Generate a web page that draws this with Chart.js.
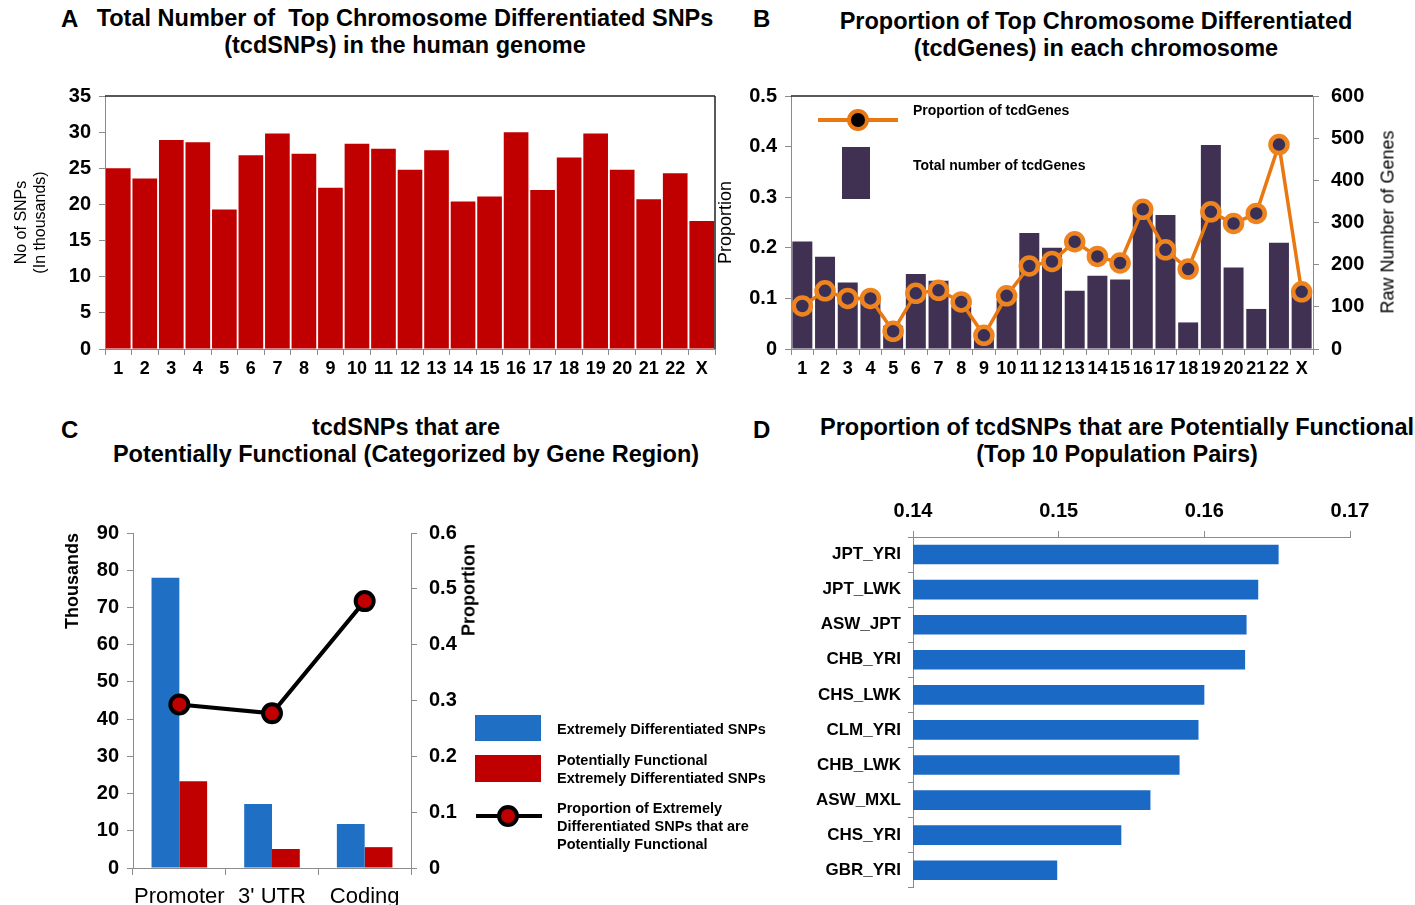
<!DOCTYPE html>
<html>
<head>
<meta charset="utf-8">
<script src="https://cdn.jsdelivr.net/npm/chart.js@4.4.1/dist/chart.umd.min.js"></script>
<style>
  body { margin: 0; background: #fff; }
  #page { position: relative; width: 1415px; height: 905px; overflow: hidden; background: #fff;
          font-family: 'Liberation Sans', Arial, sans-serif; color: #000; }
  .abs { position: absolute; white-space: nowrap; }
  .title { font-weight: bold; font-size: 23.5px; text-align: center; line-height: 27px; transform: translateX(-50%); }
  .letter { font-weight: bold; font-size: 24px; }
  .leg { font-weight: bold; font-size: 14.5px; line-height: 18px; }
  .rot { transform: translate(-50%, -50%) rotate(-90deg); }
  canvas { position: absolute; }
</style>
</head>
<body>
<div id="page">
  <!-- titles -->
  <div class="abs letter" style="left:61px; top:5px;">A</div>
  <div class="abs title" style="left:405px; top:5px;">Total Number of&nbsp; Top Chromosome Differentiated SNPs<br>(tcdSNPs) in the human genome</div>
  <div class="abs letter" style="left:753px; top:5px;">B</div>
  <div class="abs title" style="left:1096px; top:8px;">Proportion of Top Chromosome Differentiated<br>(tcdGenes) in each chromosome</div>
  <div class="abs letter" style="left:61px; top:416px;">C</div>
  <div class="abs title" style="left:406px; top:414px;">tcdSNPs that are<br>Potentially Functional (Categorized by Gene Region)</div>
  <div class="abs letter" style="left:753px; top:416px;">D</div>
  <div class="abs title" style="left:1117px; top:414px;">Proportion of tcdSNPs that are Potentially Functional<br>(Top 10 Population Pairs)</div>

  <canvas id="chartA" width="730" height="314" style="left:0px; top:76px;"></canvas>
  <canvas id="chartB" width="700" height="318" style="left:715px; top:72px;"></canvas>
  <canvas id="chartC" width="480" height="405" style="left:0px; top:500px;"></canvas>
  <canvas id="chartD" width="635" height="415" style="left:780px; top:490px;"></canvas>

  <!-- rotated right-hand axis titles -->
  <div class="abs rot" style="left:1388px; top:222px; font-size:18px;">Raw Number of Genes</div>
  <div class="abs rot" style="left:469px; top:590px; font-size:18px; font-weight:bold;">Proportion</div>

  <!-- legend B -->
  <div class="abs" style="left:818px; top:118px; width:80px; height:4px; background:#e8780f;"></div>
  <div class="abs" style="left:847px; top:109px; width:14px; height:14px; border:4px solid #e8780f; border-radius:50%; background:#000;"></div>
  <div class="abs leg" style="left:913px; top:101px; font-size:14px;">Proportion of tcdGenes</div>
  <div class="abs" style="left:842px; top:147px; width:28px; height:52px; background:#403152;"></div>
  <div class="abs leg" style="left:913px; top:156px; font-size:14px;">Total number of tcdGenes</div>

  <!-- legend C -->
  <div class="abs" style="left:475px; top:715px; width:66px; height:26px; background:#1f6fc5;"></div>
  <div class="abs leg" style="left:557px; top:720px;">Extremely Differentiated SNPs</div>
  <div class="abs" style="left:475px; top:755px; width:66px; height:27px; background:#c00000;"></div>
  <div class="abs leg" style="left:557px; top:751px;">Potentially Functional<br>Extremely Differentiated SNPs</div>
  <div class="abs" style="left:476px; top:814px; width:66px; height:4px; background:#000;"></div>
  <div class="abs" style="left:497px; top:805px; width:14px; height:14px; border:4px solid #000; border-radius:50%; background:#c00000;"></div>
  <div class="abs leg" style="left:557px; top:799px;">Proportion of Extremely<br>Differentiated SNPs that are<br>Potentially Functional</div>
</div>

<script>
// ---- data ----
const chromosomes = ['1','2','3','4','5','6','7','8','9','10','11','12','13','14','15','16','17','18','19','20','21','22','X'];
const snpThousands = [25.0, 23.6, 28.9, 28.6, 19.3, 26.8, 29.8, 27.0, 22.3, 28.4, 27.7, 24.8, 27.5, 20.4, 21.1, 30.0, 22.0, 26.5, 29.8, 24.8, 20.7, 24.3, 17.7];

const geneCounts = [255, 219, 158, 120, 55, 178, 162, 100, 40, 116, 275, 240, 138, 174, 165, 324, 318, 63, 484, 193, 95, 252, 132];
const geneProportion = [0.085, 0.115, 0.100, 0.100, 0.035, 0.110, 0.116, 0.093, 0.027, 0.105, 0.164, 0.173, 0.212, 0.183, 0.170, 0.276, 0.196, 0.158, 0.271, 0.248, 0.268, 0.404, 0.113];

const geneRegions = ['Promoter', "3' UTR", 'Coding'];
const extremeSnps = [78.0, 17.2, 11.8];
const functionalSnps = [23.3, 5.1, 5.6];
const functionalProportion = [0.293, 0.277, 0.478];

const popPairs = ['JPT_YRI', 'JPT_LWK', 'ASW_JPT', 'CHB_YRI', 'CHS_LWK', 'CLM_YRI', 'CHB_LWK', 'ASW_MXL', 'CHS_YRI', 'GBR_YRI'];
const functionalShare = [0.1651, 0.1637, 0.1629, 0.1628, 0.1600, 0.1596, 0.1583, 0.1563, 0.1543, 0.1499];

// ---- common look ----
const FONT = "'Liberation Sans', Arial, sans-serif";
Chart.defaults.font.family = FONT;
Chart.defaults.color = '#000';
Chart.defaults.animation = false;
Chart.defaults.plugins.legend.display = false;
Chart.defaults.plugins.tooltip.enabled = false;

const AXIS_GREY = '#8c8c8c';
const tickFont = { size: 20, weight: 'bold' };

// top / right frame lines of a plot box
const framePlugin = {
    id: 'frame',
    afterDraw(chart, args, opts) {
        if (!opts.sides) return;
        const { ctx, chartArea: a } = chart;
        ctx.save();
        ctx.strokeStyle = opts.color || '#333';
        ctx.lineWidth = opts.width || 1.5;
        ctx.beginPath();
        if (opts.sides.includes('top')) { ctx.moveTo(a.left, a.top); ctx.lineTo(a.right, a.top); }
        if (opts.sides.includes('right')) { ctx.moveTo(a.right, a.top); ctx.lineTo(a.right, a.bottom); }
        ctx.stroke();
        ctx.restore();
    }
};
Chart.register(framePlugin);

function axisGrid(len) {
    return { display: true, drawOnChartArea: false, tickLength: len, color: AXIS_GREY };
}

// ---- A ----
new Chart(document.getElementById('chartA'), {
    type: 'bar',
    data: {
        labels: chromosomes,
        datasets: [{ data: snpThousands, backgroundColor: '#c00000', barPercentage: 0.93, categoryPercentage: 1 }]
    },
    options: {
        responsive: false,
        layout: { padding: { top: 12, right: 15, left: 12, bottom: 0 } },
        plugins: { frame: { sides: ['top', 'right'], color: '#222' } },
        scales: {
            x: {
                grid: axisGrid(6), border: { color: AXIS_GREY },
                ticks: { font: { size: 18, weight: 'bold' }, padding: 3, maxRotation: 0, autoSkip: false },
                afterFit: s => { s.height = 41; }
            },
            y: {
                min: 0, max: 35,
                grid: axisGrid(6), border: { color: AXIS_GREY },
                ticks: { stepSize: 5, font: tickFont, padding: 8 },
                title: { display: true, text: ['No of SNPs', '(In thousands)'], font: { size: 16 }, padding: 0 },
                afterFit: s => { s.width = 93; }
            }
        }
    }
});

// ---- B ----
new Chart(document.getElementById('chartB'), {
    type: 'bar',
    data: {
        labels: chromosomes,
        datasets: [
            {
                type: 'line', data: geneProportion, yAxisID: 'y', order: 0,
                borderColor: '#e8780f', borderWidth: 3.5,
                pointRadius: 8.5, pointBorderWidth: 4.5,
                pointBackgroundColor: '#3a2f55', pointBorderColor: '#ee8420'
            },
            {
                type: 'bar', data: geneCounts, yAxisID: 'y1', order: 1,
                backgroundColor: '#403152', barPercentage: 0.88, categoryPercentage: 1
            }
        ]
    },
    options: {
        responsive: false,
        layout: { padding: { top: 9, right: 0, left: 0, bottom: 0 } },
        plugins: { frame: { sides: ['top'], color: '#222' } },
        scales: {
            x: {
                grid: axisGrid(6), border: { color: AXIS_GREY },
                ticks: { font: { size: 18, weight: 'bold' }, padding: 3, maxRotation: 0, autoSkip: false },
                afterFit: s => { s.height = 41; }
            },
            y: {
                position: 'left', min: 0, max: 0.5,
                grid: axisGrid(6), border: { color: AXIS_GREY },
                ticks: { stepSize: 0.1, font: tickFont, padding: 8, callback: v => v === 0 ? '0' : v.toFixed(1) },
                title: { display: true, text: 'Proportion', font: { size: 18 }, padding: 0 },
                afterFit: s => { s.width = 76; }
            },
            y1: {
                position: 'right', min: 0, max: 600,
                grid: axisGrid(6), border: { color: AXIS_GREY },
                ticks: { stepSize: 100, font: tickFont, padding: 12 },
                afterFit: s => { s.width = 102; }
            }
        }
    }
});

// ---- C ----
new Chart(document.getElementById('chartC'), {
    type: 'bar',
    data: {
        labels: geneRegions,
        datasets: [
            {
                type: 'line', data: functionalProportion, yAxisID: 'y1', order: 0,
                borderColor: '#000', borderWidth: 4,
                pointRadius: 9, pointBorderWidth: 4,
                pointBackgroundColor: '#c00000', pointBorderColor: '#000'
            },
            { type: 'bar', data: extremeSnps, yAxisID: 'y', order: 1, backgroundColor: '#1f6fc5', barPercentage: 1, categoryPercentage: 0.6 },
            { type: 'bar', data: functionalSnps, yAxisID: 'y', order: 2, backgroundColor: '#c00000', barPercentage: 1, categoryPercentage: 0.6 }
        ]
    },
    options: {
        responsive: false,
        layout: { padding: { top: 33, right: 0, left: 62, bottom: 0 } },
        scales: {
            x: {
                grid: axisGrid(7), border: { color: AXIS_GREY },
                ticks: { font: { size: 22 }, padding: 9, maxRotation: 0, autoSkip: false },
                afterFit: s => { s.height = 37; }
            },
            y: {
                position: 'left', min: 0, max: 90,
                grid: axisGrid(6), border: { color: AXIS_GREY },
                ticks: { stepSize: 10, font: tickFont, padding: 8 },
                title: { display: true, text: 'Thousands', font: { size: 18, weight: 'bold' }, align: 'end', padding: 0 },
                afterFit: s => { s.width = 71; }
            },
            y1: {
                position: 'right', min: 0, max: 0.6,
                grid: axisGrid(6), border: { color: AXIS_GREY },
                ticks: { stepSize: 0.1, font: tickFont, padding: 12, callback: v => v === 0 ? '0' : v.toFixed(1) },
                afterFit: s => { s.width = 69; }
            }
        }
    }
});

// ---- D ----
new Chart(document.getElementById('chartD'), {
    type: 'bar',
    data: {
        labels: popPairs,
        datasets: [{ data: functionalShare, backgroundColor: '#1a69c4', barPercentage: 0.56, categoryPercentage: 1 }]
    },
    options: {
        indexAxis: 'y',
        responsive: false,
        layout: { padding: { top: 0, right: 65, left: 0, bottom: 7 } },
        scales: {
            x: {
                position: 'top', min: 0.14, max: 0.17,
                grid: axisGrid(6), border: { color: AXIS_GREY },
                ticks: { stepSize: 0.01, font: tickFont, padding: 8, callback: v => v.toFixed(2) },
                afterFit: s => { s.height = 47; }
            },
            y: {
                grid: axisGrid(5), border: { color: AXIS_GREY },
                ticks: { font: { size: 17, weight: 'bold' }, padding: 7, autoSkip: false },
                afterFit: s => { s.width = 133; }
            }
        }
    }
});
</script>
</body>
</html>
